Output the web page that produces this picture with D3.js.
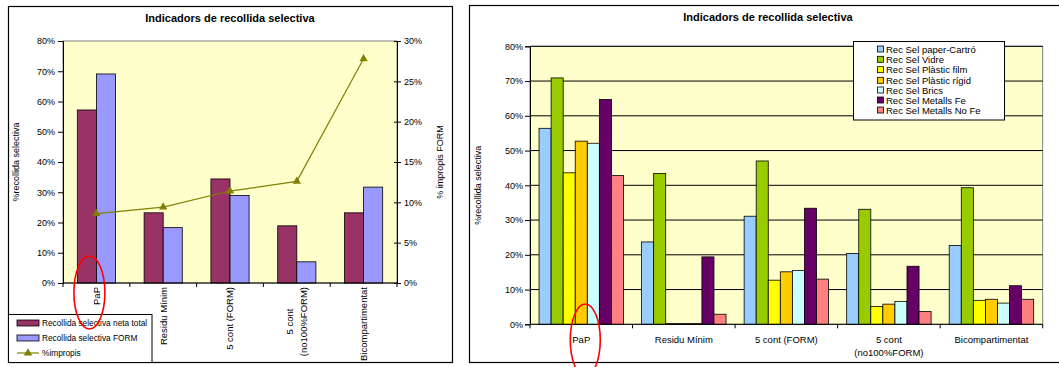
<!DOCTYPE html>
<html>
<head>
<meta charset="utf-8">
<script src="https://cdn.jsdelivr.net/npm/d3@7"></script>
<style>
  html, body { margin: 0; padding: 0; background: #fff; }
  svg { display: block; font-family: "Liberation Sans", Arial, sans-serif; }
</style>
</head>
<body>
<svg id="chart" width="1059" height="367"></svg>
<script>
// ---------- DATA ----------
const categories = ["PaP", "Residu Mínim", "5 cont (FORM)", "5 cont (no100%FORM)", "Bicompartimentat"];
const categoryLines = [["PaP"], ["Residu Mínim"], ["5 cont (FORM)"], ["5 cont", "(no100%FORM)"], ["Bicompartimentat"]];

// left chart
const leftSeriesNames = ["Recollida selectiva neta total", "Recollida selectiva FORM"];
const netaTotal = [57.2, 23.2, 34.4, 18.9, 23.2];
const selectivaForm = [69.1, 18.3, 28.9, 7.0, 31.7];
const impropisName = "%impropis";
const impropis = [8.6, 9.4, 11.4, 12.6, 27.8];
const leftTicks = [0, 10, 20, 30, 40, 50, 60, 70, 80];
const rightTicks = [0, 5, 10, 15, 20, 25, 30];

// right chart
const rightSeriesNames = ["Rec Sel paper-Cartró", "Rec Sel Vidre", "Rec Sel Plàstic film", "Rec Sel Plàstic rígid", "Rec Sel Brics", "Rec Sel Metalls Fe", "Rec Sel Metalls No Fe"];
const paperCartro = [56.4, 23.7, 31.1, 20.4, 22.7];
const vidre = [70.9, 43.4, 47.0, 33.1, 39.3];
const plasticFilm = [43.6, 0.2, 12.7, 5.1, 6.9];
const plasticRigid = [52.7, 0.2, 15.1, 5.8, 7.2];
const brics = [52.1, 0.2, 15.5, 6.6, 6.1];
const metallsFe = [64.7, 19.4, 33.4, 16.7, 11.1];
const metallsNoFe = [42.8, 2.9, 13.0, 3.7, 7.2];

// ---------- STYLE ----------
const leftColors = ["#993366", "#9999FF"];
const lineColor = "#808000";
const rightColors = ["#99CCFF", "#99CC00", "#FFFF00", "#FFCC00", "#CCFFFF", "#660066", "#FF8080"];
const plotFill = "#FFFFCC";
const fmtPct = d => d + "%";

const svg = d3.select("#chart");

// =============== LEFT CHART ===============
(function () {
  const g = svg.append("g");
  const L = 63, R = 397, T = 41, B = 283;
  g.append("rect").attr("x", 8.5).attr("y", 6.5).attr("width", 444).attr("height", 356)
    .attr("fill", "#fff").attr("stroke", "#000").attr("stroke-width", 1.2);

  g.append("text").attr("x", 230).attr("y", 22).attr("text-anchor", "middle")
    .attr("font-size", 11).attr("font-weight", "bold").text("Indicadors de recollida selectiva");

  g.append("rect").attr("x", L).attr("y", T).attr("width", R - L).attr("height", B - T)
    .attr("fill", plotFill).attr("stroke", "#808080").attr("stroke-width", 1);

  const x = d3.scaleBand().domain(categories).range([L, R]).padding(0);
  const xi = d3.scaleBand().domain(leftSeriesNames).range([0, x.bandwidth()]).paddingInner(0).paddingOuter(0.75);
  const y = d3.scaleLinear().domain([0, 80]).range([B, T]);
  const y2 = d3.scaleLinear().domain([0, 30]).range([B, T]);

  const series = [netaTotal, selectivaForm];
  series.forEach((vals, si) => {
    g.selectAll(null).data(vals).enter().append("rect")
      .attr("x", (d, i) => x(categories[i]) + xi(leftSeriesNames[si]))
      .attr("y", d => y(d))
      .attr("width", xi.bandwidth())
      .attr("height", d => y(0) - y(d))
      .attr("fill", leftColors[si]).attr("stroke", "#000").attr("stroke-width", 0.8);
  });

  // left axis
  const ya = g.append("g").attr("transform", `translate(${L},0)`)
    .call(d3.axisLeft(y).tickValues(leftTicks).tickFormat(fmtPct).tickSize(5).tickPadding(3));
  ya.select(".domain").attr("stroke", "#000");
  ya.selectAll("text").attr("font-size", 9).attr("font-family", "Liberation Sans, Arial, sans-serif");

  // right axis
  const y2a = g.append("g").attr("transform", `translate(${R},0)`)
    .call(d3.axisRight(y2).tickValues(rightTicks).tickFormat(fmtPct).tickSize(4).tickPadding(3));
  y2a.selectAll(".tick line").attr("x1", -3);
  y2a.selectAll("text").attr("font-size", 9).attr("font-family", "Liberation Sans, Arial, sans-serif");

  // bottom axis with boundary ticks
  const xa = g.append("g").attr("transform", `translate(0,${B})`);
  xa.append("line").attr("x1", L).attr("x2", R).attr("stroke", "#000");
  const bounds = categories.map(c => x(c)).concat([R]);
  xa.selectAll("line.tk").data(bounds).enter().append("line").attr("class", "tk")
    .attr("x1", d => d).attr("x2", d => d).attr("y1", 0).attr("y2", 4).attr("stroke", "#000");

  // rotated category labels
  categoryLines.forEach((lines, i) => {
    const cx = x(categories[i]) + x.bandwidth() / 2;
    const t = g.append("text").attr("font-size", 9.5).attr("text-anchor", "middle");
    lines.forEach((ln, k) => {
      t.append("tspan").attr("x", 0).attr("dy", k === 0 ? (0.35 - (lines.length - 1) * 0.75) + "em" : "1.5em").text(ln);
    });
    let maxW = 0;
    t.selectAll("tspan").each(function () { maxW = Math.max(maxW, this.getComputedTextLength()); });
    t.attr("transform", `translate(${cx},${B + 4 + maxW / 2}) rotate(-90)`);
  });

  // line series
  const pts = impropis.map((v, i) => [x(categories[i]) + x.bandwidth() / 2, y2(v)]);
  g.append("path").attr("d", d3.line()(pts)).attr("fill", "none").attr("stroke", lineColor).attr("stroke-width", 1.2);
  const tri = d3.symbol().type(d3.symbolTriangle).size(30);
  g.selectAll(null).data(pts).enter().append("path").attr("d", tri)
    .attr("transform", d => `translate(${d[0]},${d[1]})`).attr("fill", lineColor);

  // axis titles
  g.append("text").attr("transform", `translate(19,${(T + B) / 2}) rotate(-90)`)
    .attr("text-anchor", "middle").attr("font-size", 9).text("%recollida selectiva");
  g.append("text").attr("transform", `translate(443,${(T + B) / 2}) rotate(-90)`)
    .attr("text-anchor", "middle").attr("font-size", 9).text("% impropis FORM");

  // legend
  const lg = g.append("g");
  lg.append("rect").attr("x", 8.5).attr("y", 314.5).attr("width", 143.5).attr("height", 48)
    .attr("fill", "#fff").attr("stroke", "#000").attr("stroke-width", 1);
  const ly = [323, 338, 353];
  leftSeriesNames.forEach((n, i) => {
    lg.append("rect").attr("x", 17).attr("y", ly[i] - 3).attr("width", 22).attr("height", 6)
      .attr("fill", leftColors[i]).attr("stroke", "#000").attr("stroke-width", 0.8);
    lg.append("text").attr("x", 42).attr("y", ly[i] + 3).attr("font-size", 8.3).text(n);
  });
  lg.append("line").attr("x1", 17).attr("x2", 39).attr("y1", ly[2]).attr("y2", ly[2]).attr("stroke", lineColor).attr("stroke-width", 1.2);
  lg.append("path").attr("d", tri).attr("transform", `translate(28,${ly[2]})`).attr("fill", lineColor);
  lg.append("text").attr("x", 42).attr("y", ly[2] + 3).attr("font-size", 8.3).text(impropisName);

  // red annotation ellipse
  g.append("ellipse").attr("cx", x("PaP") + x.bandwidth() / 2 - 7).attr("cy", 292.5)
    .attr("rx", 15.5).attr("ry", 36.5).attr("fill", "none").attr("stroke", "#FF0000").attr("stroke-width", 1.6);
})();

// =============== RIGHT CHART ===============
(function () {
  const g = svg.append("g");
  const L = 530, R = 1042.7, T = 46.3, B = 324.3;
  g.append("rect").attr("x", 469.5).attr("y", 5.5).attr("width", 600).attr("height", 357)
    .attr("fill", "#fff").attr("stroke", "#000").attr("stroke-width", 1.2);

  g.append("text").attr("x", 768).attr("y", 21).attr("text-anchor", "middle")
    .attr("font-size", 11).attr("font-weight", "bold").text("Indicadors de recollida selectiva");

  g.append("rect").attr("x", L).attr("y", T).attr("width", R - L).attr("height", B - T)
    .attr("fill", plotFill).attr("stroke", "#808080").attr("stroke-width", 1);

  const x = d3.scaleBand().domain(categories).range([L, R]).padding(0);
  const xi = d3.scaleBand().domain(rightSeriesNames).range([0, x.bandwidth()]).paddingInner(0).paddingOuter(0.75);
  const y = d3.scaleLinear().domain([0, 80]).range([B, T]);

  // gridlines
  g.selectAll("line.grid").data(leftTicks.filter(t => t > 0)).enter().append("line").attr("class", "grid")
    .attr("x1", L).attr("x2", R).attr("y1", d => y(d)).attr("y2", d => y(d)).attr("stroke", "#000").attr("stroke-width", 1);

  const series = [paperCartro, vidre, plasticFilm, plasticRigid, brics, metallsFe, metallsNoFe];
  series.forEach((vals, si) => {
    g.selectAll(null).data(vals).enter().append("rect")
      .attr("x", (d, i) => x(categories[i]) + xi(rightSeriesNames[si]))
      .attr("y", d => y(d))
      .attr("width", xi.bandwidth())
      .attr("height", d => y(0) - y(d))
      .attr("fill", rightColors[si]).attr("stroke", "#000").attr("stroke-width", 0.8);
  });

  const ya = g.append("g").attr("transform", `translate(${L},0)`)
    .call(d3.axisLeft(y).tickValues(leftTicks).tickFormat(fmtPct).tickSize(5).tickPadding(2));
  ya.selectAll("text").attr("font-size", 9).attr("font-family", "Liberation Sans, Arial, sans-serif");

  const xa = g.append("g").attr("transform", `translate(0,${B})`);
  xa.append("line").attr("x1", L).attr("x2", R).attr("stroke", "#000");
  const bounds = categories.map(c => x(c)).concat([R]);
  xa.selectAll("line.tk").data(bounds).enter().append("line").attr("class", "tk")
    .attr("x1", d => d).attr("x2", d => d).attr("y1", 0).attr("y2", 4).attr("stroke", "#000");

  categoryLines.forEach((lines, i) => {
    const cx = x(categories[i]) + x.bandwidth() / 2;
    const t = g.append("text").attr("font-size", 9.5).attr("text-anchor", "middle");
    lines.forEach((ln, k) => {
      t.append("tspan").attr("x", cx).attr("y", B + 19 + k * 13).text(ln);
    });
  });

  g.append("text").attr("transform", `translate(481,${(T + B) / 2}) rotate(-90)`)
    .attr("text-anchor", "middle").attr("font-size", 9).text("%recollida selectiva");

  // legend
  const lg = g.append("g");
  lg.append("rect").attr("x", 853.5).attr("y", 41.5).attr("width", 151).attr("height", 78.5)
    .attr("fill", "#fff").attr("stroke", "#000").attr("stroke-width", 1);
  const lys = [49, 59.3, 69.7, 80.3, 90, 100, 110];
  rightSeriesNames.forEach((n, i) => {
    lg.append("rect").attr("x", 877.5).attr("y", lys[i] - 3).attr("width", 6).attr("height", 6)
      .attr("fill", rightColors[i]).attr("stroke", "#000").attr("stroke-width", 0.8);
    lg.append("text").attr("x", 886).attr("y", lys[i] + 3.5).attr("font-size", 9.5).text(n);
  });

  g.append("ellipse").attr("cx", x("PaP") + x.bandwidth() / 2 + 4).attr("cy", 340)
    .attr("rx", 15).attr("ry", 36).attr("fill", "none").attr("stroke", "#FF0000").attr("stroke-width", 1.6);
})();
</script>
</body>
</html>
